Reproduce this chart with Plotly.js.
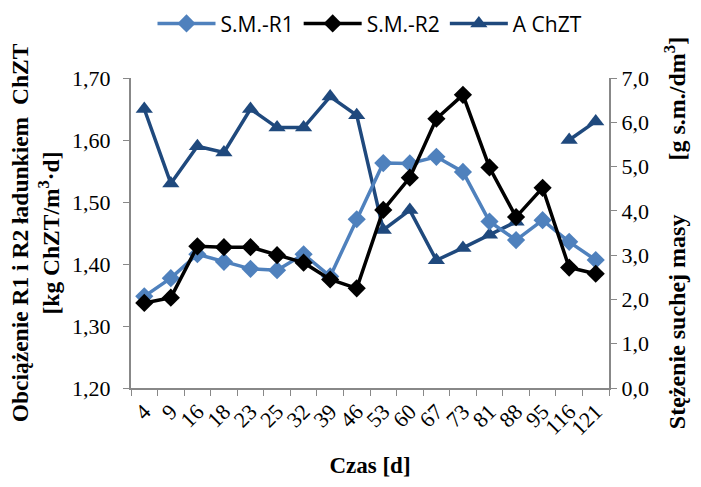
<!DOCTYPE html>
<html>
<head>
<meta charset="utf-8">
<script src="https://cdn.plot.ly/plotly-3.0.1.min.js"></script>
<style>html,body{margin:0;padding:0;background:#fff;}#chart{width:701px;height:487px;}</style>
</head>
<body>
<div id="chart"></div>
<script>
const days = ['4','9','16','18','23','25','32','39','46','53','60','67','73','81','88','95','116','121'];
const smR1 = [2.07, 2.48, 3.02, 2.85, 2.69, 2.66, 3.02, 2.52, 3.81, 5.08, 5.07, 5.22, 4.88, 3.76, 3.34, 3.79, 3.30, 2.89];
const smR2 = [1.92, 2.04, 3.20, 3.18, 3.18, 3.00, 2.83, 2.45, 2.25, 4.02, 4.75, 6.08, 6.62, 4.98, 3.86, 4.52, 2.72, 2.58];
const aChZT = [1.65, 1.53, 1.59, 1.58, 1.65, 1.62, 1.62, 1.67, 1.64, 1.455, 1.487, 1.406, 1.426, 1.447, 1.468, null, 1.60, 1.63];

const serif = 'Liberation Serif, Times New Roman, serif';
const NB = '\u00a0';
const traces = [
  {x: days, y: smR1, name: 'S.M.-R1', type: 'scatter', mode: 'lines+markers', yaxis: 'y2',
   line: {color: '#4F81BD', width: 3.5}, marker: {symbol: 'diamond', size: 14, color: '#4F81BD'}},
  {x: days, y: smR2, name: 'S.M.-R2', type: 'scatter', mode: 'lines+markers', yaxis: 'y2',
   line: {color: '#000000', width: 3.5}, marker: {symbol: 'diamond', size: 14, color: '#000000'}},
  {x: days, y: aChZT, name: 'A ChZT', type: 'scatter', mode: 'lines+markers', yaxis: 'y',
   connectgaps: false,
   line: {color: '#1F497D', width: 3.5}, marker: {symbol: 'triangle-up', size: 15, color: '#1F497D'}}
];
const layout = {
  width: 701, height: 487,
  margin: {l: 131, r: 92, t: 78, b: 99, autoexpand: false},
  paper_bgcolor: '#fff', plot_bgcolor: '#fff',
  separators: ',.',
  showlegend: true,
  legend: {orientation: 'h', x: 0.5, xanchor: 'center', y: 1.175, yanchor: 'middle',
           font: {family: 'Open Sans, Liberation Sans, sans-serif', size: 21, color: '#000'},
           traceorder: 'normal', itemwidth: 58},
  xaxis: {type: 'category', range: [-0.5, 17.5], tickangle: -45, tickson: 'boundaries', ticks: 'outside', ticklen: 6,
          tickcolor: '#888', showline: true, linecolor: '#888', linewidth: 2, showgrid: false,
          tickfont: {family: serif, size: 22, color: '#000'},
          title: {text: '<b>Czas [d]</b>', font: {family: serif, size: 23, color: '#000'}, standoff: 18},
          automargin: false},
  yaxis: {range: [1.2, 1.7], dtick: 0.1, tickformat: '.2f', ticks: 'outside', ticklen: 6, ticklabelstandoff: 8,
          tickcolor: '#888', showline: true, linecolor: '#888', linewidth: 2, showgrid: false, zeroline: false,
          tickfont: {family: serif, size: 22, color: '#000'},
          title: {text: '<b>Obciążenie R1 i R2 ładunkiem' + NB + NB + 'ChZT<br>[kg ChZT/m<sup>3</sup>·d]</b>', font: {family: serif, size: 23.5, color: '#000'}, standoff: 6},
          automargin: false},
  yaxis2: {range: [0, 7], dtick: 1, tickformat: '.1f', overlaying: 'y', side: 'right', ticks: 'outside', ticklen: 6,
          tickcolor: '#888', showline: true, linecolor: '#888', linewidth: 2, showgrid: false, zeroline: false,
          tickfont: {family: serif, size: 22, color: '#000'},
          title: {text: '<b>Stężenie suchej masy' + NB.repeat(9) + '[g s.m./dm<sup>3</sup>]</b>', font: {family: serif, size: 24, color: '#000'}, standoff: 20},
          automargin: false}
};
Plotly.newPlot('chart', traces, layout, {displayModeBar: false, staticPlot: true});
</script>
</body>
</html>
